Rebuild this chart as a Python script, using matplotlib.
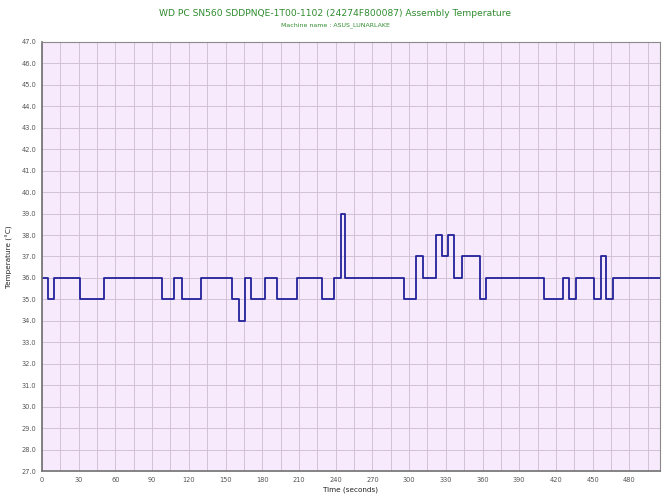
import matplotlib
matplotlib.use("Agg")
import matplotlib.pyplot as plt
import numpy as np

# step data: time (s) where the reading changes, and new value (°C)
times = [0, 5, 10, 31, 51, 98, 108, 114, 130, 155, 161, 166, 171, 182, 192, 208,
         229, 239, 244, 248, 296, 306, 311, 322, 327, 332, 337, 343, 358, 363,
         410, 426, 431, 436, 451, 457, 461, 467, 505]
temps = [36, 35, 36, 35, 36, 35, 36, 35, 36, 35, 34, 36, 35, 36, 35, 36,
         35, 36, 39, 36, 35, 37, 36, 38, 37, 38, 36, 37, 35, 36,
         35, 36, 35, 36, 35, 37, 35, 36, 36]

title = "WD PC SN560 SDDPNQE-1T00-1102 (24274F800087) Assembly Temperature"
subtitle = "Machine name : ASUS_LUNARLAKE"
x_ticks = list(range(0, 481, 30))
y_ticks = np.arange(27, 47.1, 1.0)

fig = plt.figure(figsize=(6.7, 5.03), dpi=100)
ax = fig.add_axes([0.0627, 0.0636, 0.9223, 0.853])
ax.set_facecolor("#f6eafc")

ax.plot(times, temps, drawstyle="steps-post", color="#22229a", lw=1.3)

ax.set_xlim(0, 505)
ax.set_ylim(27, 47)
ax.set_xticks(x_ticks)
ax.set_xticks(range(0, 506, 15), minor=True)
ax.set_yticks(y_ticks)
ax.set_yticklabels(["%.1f" % v for v in y_ticks])
ax.grid(True, which="both", color="#d3c2d6", lw=0.7)
ax.set_axisbelow(True)
ax.tick_params(which="both", length=0, labelsize=4.8, colors="#555555", pad=4)

for s in ["left", "bottom"]:
    ax.spines[s].set_color("#707070")
    ax.spines[s].set_linewidth(1.2)
for s in ["top", "right"]:
    ax.spines[s].set_color("#8a8a8a")
    ax.spines[s].set_linewidth(0.8)

ax.set_xlabel("Time (seconds)", fontsize=5.2, color="#222222", labelpad=3)
ax.set_ylabel("Temperature (°C)", fontsize=5.2, color="#222222", labelpad=6)

fig.text(0.5, 0.973, title, ha="center", va="center", fontsize=6.6, color="#2e8b2e")
fig.text(0.5, 0.950, subtitle, ha="center", va="center", fontsize=4.5, color="#2e8b2e")

fig.savefig("out.png", dpi=100)
